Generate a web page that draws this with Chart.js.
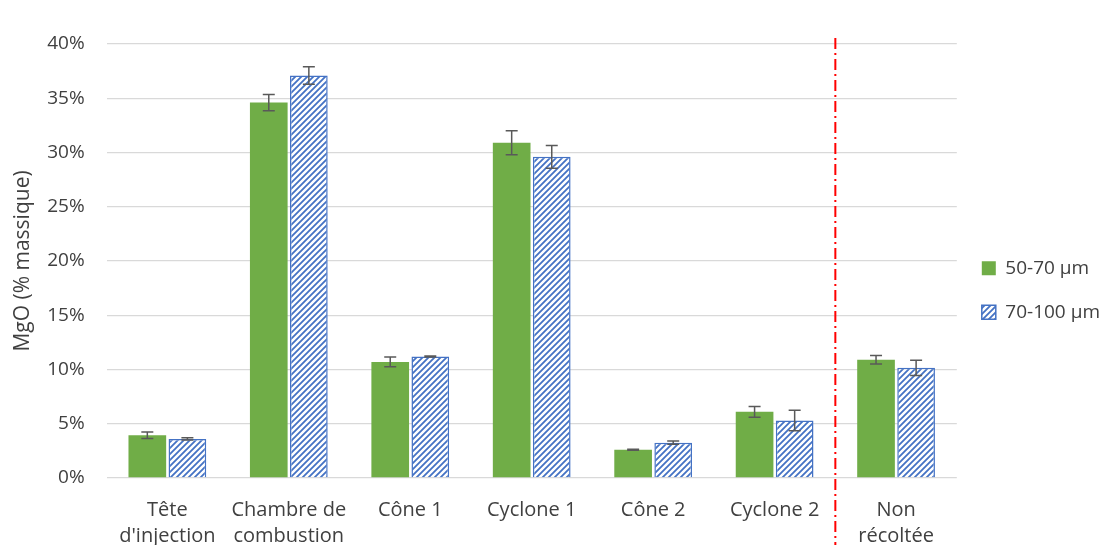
<!DOCTYPE html>
<html>
<head>
<meta charset="utf-8">
<script src="https://cdn.jsdelivr.net/npm/chart.js@4.4.0/dist/chart.umd.min.js"></script>
<style>
  html, body { margin: 0; padding: 0; background: #fff; overflow: hidden; }
  #wrap { width: 1119px; height: 568px; position: relative; }
</style>
</head>
<body>
<div id="wrap"><canvas id="chart"></canvas></div>
<script>
'use strict';

// data (% massique)
const categories = [['Tête', "d'injection"], ['Chambre de', 'combustion'], 'Cône 1', 'Cyclone 1', 'Cône 2', 'Cyclone 2', ['Non', 'récoltée']];
const seriesNames = ['50-70 µm', '70-100 µm'];
const mgo5070 = [3.95, 34.6, 10.7, 30.9, 2.6, 6.1, 10.9];
const err5070 = [0.3, 0.75, 0.45, 1.1, 0.05, 0.5, 0.4];
const mgo70100 = [3.6, 37.1, 11.2, 29.6, 3.25, 5.3, 10.15];
const err70100 = [0.1, 0.8, 0.05, 1.05, 0.15, 0.95, 0.7];
const yTicks = [0, 5, 10, 15, 20, 25, 30, 35, 40];

const green = '#70AD47';
const blue = '#4472C4';
const textColor = '#404040';

// diagonal hatch for the second series
function makeHatch() {
  const s = 6;
  const c = document.createElement('canvas');
  c.width = s;
  c.height = s;
  const g = c.getContext('2d');
  g.fillStyle = '#fff';
  g.fillRect(0, 0, s, s);
  g.strokeStyle = blue;
  g.lineWidth = 1.8;
  g.beginPath();
  for (let k = -s; k <= 2 * s; k += s) {
    g.moveTo(k - 1, s + 1);
    g.lineTo(k + s + 1, -1);
  }
  g.stroke();
  return g.createPattern(c, 'repeat');
}

const errorBars = {
  id: 'errorBars',
  afterDatasetsDraw(chart) {
    const ctx = chart.ctx;
    const y = chart.scales.y;
    const errs = [err5070, err70100];
    ctx.save();
    ctx.strokeStyle = '#595959';
    ctx.lineWidth = 1.5;
    chart.data.datasets.forEach((ds, i) => {
      const meta = chart.getDatasetMeta(i);
      meta.data.forEach((bar, j) => {
        const v = ds.data[j];
        const e = errs[i][j];
        const top = y.getPixelForValue(v + e);
        const bot = y.getPixelForValue(v - e);
        ctx.beginPath();
        ctx.moveTo(bar.x, top);
        ctx.lineTo(bar.x, bot);
        ctx.moveTo(bar.x - 6, top);
        ctx.lineTo(bar.x + 6, top);
        ctx.moveTo(bar.x - 6, bot);
        ctx.lineTo(bar.x + 6, bot);
        ctx.stroke();
      });
    });
    ctx.restore();
  }
};

// red dash-dot separator before "Non récoltée"
const separator = {
  id: 'separator',
  afterDatasetsDraw(chart) {
    const ctx = chart.ctx;
    const x = chart.scales.x;
    const px = (x.getPixelForValue(5) + x.getPixelForValue(6)) / 2;
    ctx.save();
    ctx.strokeStyle = '#FF0000';
    ctx.lineWidth = 2;
    ctx.setLineDash([11, 4, 2, 4]);
    ctx.beginPath();
    ctx.moveTo(px, chart.chartArea.top - 6);
    ctx.lineTo(px, chart.height);
    ctx.stroke();
    ctx.restore();
  }
};

Chart.defaults.font.family = '"Open Sans", sans-serif';
Chart.defaults.color = textColor;

new Chart(document.getElementById('chart'), {
  type: 'bar',
  data: {
    labels: categories,
    datasets: [{
      label: seriesNames[0],
      data: mgo5070,
      backgroundColor: green,
      borderColor: green,
      borderWidth: 0
    }, {
      label: seriesNames[1],
      data: mgo70100,
      backgroundColor: makeHatch(),
      borderColor: blue,
      borderWidth: 1.5
    }]
  },
  options: {
    responsive: true,
    maintainAspectRatio: false,
    animation: false,
    layout: { padding: { top: 44, right: 9, left: 0, bottom: 0 } },
    datasets: { bar: { categoryPercentage: 0.66, barPercentage: 0.94 } },
    plugins: {
      legend: {
        position: 'right',
        align: 'start',
        // empty title only used to push the items down to mid-height
        title: { display: true, text: ' ', font: { size: 19 }, padding: { top: 0, bottom: 167 } },
        labels: {
          font: { size: 19 },
          boxWidth: 14,
          boxHeight: 14,
          padding: 25
        }
      },
      tooltip: { enabled: false }
    },
    scales: {
      x: {
        grid: { display: false, drawTicks: false },
        border: { display: false },
        ticks: { font: { size: 20, lineHeight: 1.3 }, padding: 19, maxRotation: 0, autoSkip: false }
      },
      y: {
        min: 0,
        max: 40,
        afterBuildTicks(axis) { axis.ticks = yTicks.map(v => ({ value: v })); },
        grid: { color: '#D9D9D9', lineWidth: 1.3, drawTicks: false },
        border: { display: false },
        ticks: { font: { size: 19 }, padding: 22, callback: v => v + '%' },
        title: { display: true, text: 'MgO (% massique)', font: { size: 21 }, padding: { top: 10, bottom: -10 } }
      }
    }
  },
  plugins: [errorBars, separator]
});
</script>
</body>
</html>
